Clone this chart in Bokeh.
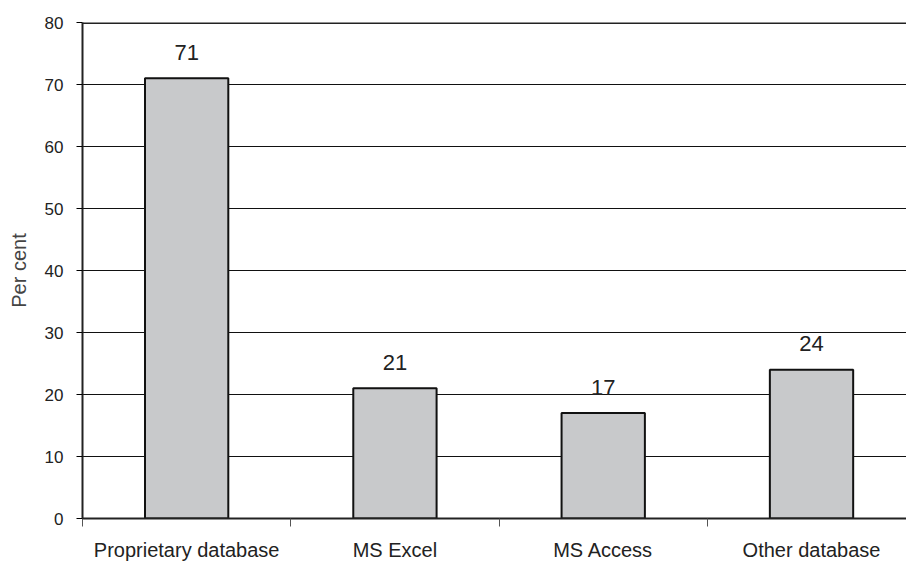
from bokeh.plotting import figure
from bokeh.models import FixedTicker, Range1d, Span, ColumnDataSource
from bokeh.embed import file_html
from bokeh.resources import INLINE

categories = ["Proprietary database", "MS Excel", "MS Access", "Other database"]
values = [71, 21, 17, 24]
y_ticks = [0, 10, 20, 30, 40, 50, 60, 70, 80]

FONT = "Liberation Sans"
centers = [i + 0.5 for i in range(len(categories))]
src = ColumnDataSource(dict(x=centers, top=values, label=[str(v) for v in values]))

p = figure(width=906, height=567, output_backend="svg", toolbar_location=None,
           x_range=Range1d(0, 3.956), y_range=Range1d(0, 80),
           min_border_left=82, min_border_right=0, min_border_top=22, min_border_bottom=49)
p.outline_line_color = None
p.background_fill_color = "white"

p.vbar(x="x", top="top", width=0.40, source=src, fill_color="#c8c9cb",
       line_color="#111111", line_width=2)
p.text(x="x", y="top", text="label", source=src, text_align="center", text_baseline="middle",
       y_offset=-26, text_font_size="22px", text_font={"value": FONT}, text_color="#222222")

top_line = Span(location=y_ticks[-1], dimension="width", line_color="#222222", line_width=3)
p.add_layout(top_line)

p.xgrid.grid_line_color = None
p.ygrid.grid_line_color = "#111111"
p.ygrid.grid_line_width = 1
p.ygrid.ticker = FixedTicker(ticks=y_ticks)

p.yaxis.ticker = FixedTicker(ticks=y_ticks)
p.yaxis.axis_label = "Per cent"
p.yaxis.axis_label_text_font = FONT
p.yaxis.axis_label_text_font_style = "normal"
p.yaxis.axis_label_text_font_size = "20px"
p.yaxis.axis_label_standoff = 12
p.yaxis.major_label_text_font = FONT
p.yaxis.major_label_text_font_size = "17px"
p.yaxis.major_label_text_color = "#222222"
p.yaxis.axis_line_width = 2
p.yaxis.axis_line_color = "#222222"
p.yaxis.major_tick_out = 6
p.yaxis.major_tick_in = 0
p.yaxis.minor_tick_line_color = None
p.yaxis.major_label_standoff = 13

p.xaxis.ticker = FixedTicker(ticks=centers, minor_ticks=list(range(len(categories) + 1)))
p.xaxis.major_label_overrides = {c: lab for c, lab in zip(centers, categories)}
p.xaxis.major_label_text_font = FONT
p.xaxis.major_label_text_font_size = "20px"
p.xaxis.major_label_text_color = "#222222"
p.xaxis.major_tick_out = 0
p.xaxis.major_tick_in = 0
p.xaxis.minor_tick_out = 8
p.xaxis.minor_tick_in = 0
p.xaxis.minor_tick_line_color = "#555555"
p.xaxis.axis_line_width = 2
p.xaxis.axis_line_color = "#222222"
p.xaxis.major_label_standoff = 12

open("out.html", "w").write(file_html(p, INLINE))
